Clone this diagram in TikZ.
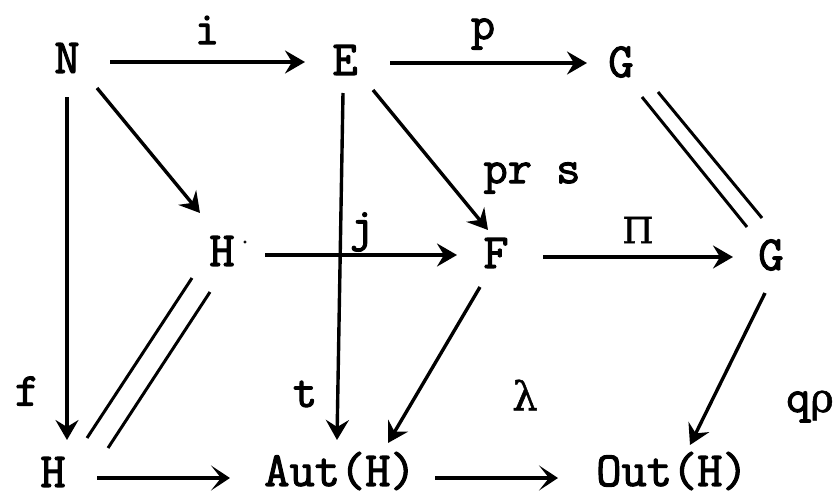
\documentclass[tikz,border=0pt]{standalone}
\usepackage{fontspec}
\newfontfamily\twfont[FakeBold=2.2]{Latin Modern Mono}
\newfontfamily\gkfont[FakeBold=1.2]{DejaVu Serif}
\usetikzlibrary{arrows.meta,calc}
\begin{document}
\begin{tikzpicture}[x=1pt,y=-1pt,
  obj/.style={font=\fontsize{49}{49}\selectfont\twfont, inner sep=0pt},
  lab/.style={font=\fontsize{47}{47}\selectfont\twfont, inner sep=0pt},
  arr/.style={line width=3.4pt, -{Stealth[length=20pt,width=23pt,inset=7pt]}},
  barb/.style={line width=3.4pt, -{Stealth[length=19pt,width=25pt,inset=10pt]}},
  eq/.style={line width=3pt}]
\useasboundingbox (0,0) rectangle (836,498);
% objects
\node[obj] (n) at (67,58) {N};
\node[obj] (e) at (345,60) {E};
\node[obj] (g1) at (621,62) {G};
\node[obj] (hp) at (222,251) {H};
\node[obj, font=\fontsize{22}{22}\selectfont\twfont] (hpm) at (245,242) {.};
\node[obj] (f) at (496,253) {F};
\node[obj] (g2) at (771,255) {G};
\node[obj] (h) at (53,472) {H};
\node[obj] (aut) at (340,471) {Aut(H)};
\node[obj] (out) at (672,471) {Out(H)};
% labels
\node[lab] (li) at (207,30) {i};
\node[lab] (lp) at (483,34) {p};
\node[lab] (lprs) at (532,178) {pr s};
\node[lab] (lj) at (362,232) {j};
\node[lab, font=\fontsize{36}{36}\selectfont\gkfont] (lpi) at (638,230) {Π};
\node[lab] (lf) at (27,391) {f};
\node[lab] (lt) at (305,394) {t};
\node[lab, font=\fontsize{40}{40}\selectfont\gkfont] (llam) at (525,395) {λ};
\node[lab, anchor=base west] (lq) at (786,412) {q\gkfont\fontsize{40}{40}\selectfont ρ};
% arrows
\draw[arr] ($(n)+(43,4)$) -- ($(e)+(-40,2)$);
\draw[arr] ($(e)+(45,3)$) -- ($(g1)+(-34,1)$);
\draw[arr] ($(n)+(30,30)$) -- ($(hp)+(-22,-38)$);
\draw[arr] ($(e)+(28,30)$) -- ($(f)+(-8,-23)$);
\draw[arr] ($(hp)+(43,4)$) -- ($(f)+(-39,2)$);
\draw[arr] ($(f)+(47,4)$) -- ($(g2)+(-38,2)$);
\draw[eq] ($(g1)+(21,35)$) -- ($(g2)+(-24,-28)$);
\draw[eq] ($(g1)+(37,30)$) -- ($(g2)+(-9,-37)$);
\draw[arr] ($(n)+(0,39)$) -- ($(h)+(14,-32)$);
\draw[arr] ($(e)+(-2,33)$) -- ($(aut)+(-3,-31)$);
\draw[eq] ($(hp)+(-30,27)$) -- ($(h)+(34,-34)$);
\draw[eq] ($(hp)+(-12,41)$) -- ($(h)+(55,-24)$);
\draw[arr] ($(f)+(-16,34)$) -- ($(aut)+(48,-28)$);
\draw[arr] ($(g2)+(-6,38)$) -- ($(out)+(18,-26)$);
\draw[barb] ($(h)+(44,6)$) -- ($(aut)+(-110,7)$);
\draw[barb] ($(aut)+(95,7)$) -- ($(out)+(-114,7)$);
\end{tikzpicture}
\end{document}
